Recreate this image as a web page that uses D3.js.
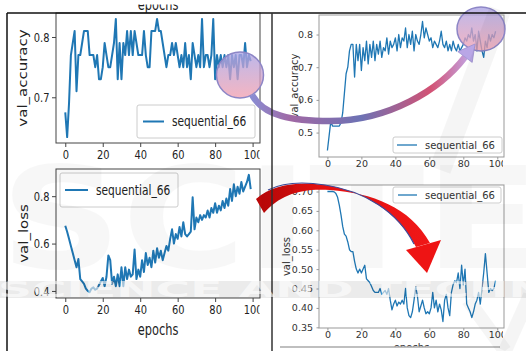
<!DOCTYPE html>
<html>
<head>
<meta charset="utf-8">
<script src="https://cdn.jsdelivr.net/npm/d3@7/dist/d3.min.js"></script>
<style>
  body { margin: 0; background: #fff; }
  svg { display: block; }
</style>
</head>
<body>
<div id="chart"></div>
<script>
// ---- data (epochs 0..99) ----
const epochs = d3.range(100);
const seriesName = "sequential_66";

// top left: val_accuracy
const accLeft = [
  0.675, 0.634, 0.69, 0.77, 0.79, 0.81, 0.71, 0.77, 0.77, 0.79,
  0.81, 0.81, 0.81, 0.77, 0.77, 0.77, 0.75, 0.77, 0.73, 0.73,
  0.75, 0.79, 0.77, 0.75, 0.75, 0.77, 0.79, 0.83, 0.73, 0.79,
  0.73, 0.79, 0.77, 0.81, 0.77, 0.81, 0.77, 0.81, 0.79, 0.77,
  0.77, 0.77, 0.81, 0.77, 0.75, 0.75, 0.81, 0.81, 0.81, 0.83,
  0.81, 0.81, 0.79, 0.77, 0.75, 0.77, 0.77, 0.79, 0.77, 0.79,
  0.77, 0.75, 0.77, 0.75, 0.79, 0.75, 0.77, 0.73, 0.79, 0.77,
  0.75, 0.77, 0.75, 0.83, 0.75, 0.77, 0.77, 0.75, 0.77, 0.83,
  0.73, 0.77, 0.75, 0.77, 0.75, 0.77, 0.75, 0.77, 0.73, 0.77,
  0.75, 0.77, 0.73, 0.77, 0.77, 0.75, 0.79, 0.75, 0.77, 0.76
];
// top right: val_accuracy
const accRight = [
  0.445, 0.49, 0.535, 0.52, 0.52, 0.52, 0.52, 0.52, 0.53, 0.56,
  0.62, 0.68, 0.70, 0.75, 0.77, 0.77, 0.67, 0.77, 0.72, 0.77,
  0.69, 0.76, 0.72, 0.78, 0.71, 0.77, 0.73, 0.78, 0.72, 0.77,
  0.74, 0.78, 0.73, 0.76, 0.75, 0.79, 0.74, 0.78, 0.76, 0.77,
  0.79, 0.75, 0.80, 0.76, 0.79, 0.78, 0.82, 0.76, 0.80, 0.77,
  0.81, 0.75, 0.80, 0.78, 0.77, 0.80, 0.84, 0.79, 0.82, 0.80,
  0.78, 0.79, 0.76, 0.78, 0.77, 0.76, 0.78, 0.81, 0.77, 0.76,
  0.78, 0.75, 0.77, 0.75, 0.78, 0.76, 0.75, 0.77, 0.75, 0.76,
  0.77, 0.79, 0.78, 0.80, 0.79, 0.82, 0.78, 0.80, 0.75, 0.81,
  0.78, 0.75, 0.73, 0.78, 0.76, 0.80, 0.78, 0.80, 0.79, 0.81
];
// bottom left: val_loss
const lossLeft = [
  0.675, 0.65, 0.62, 0.59, 0.56, 0.53, 0.50, 0.535, 0.45, 0.44,
  0.43, 0.41, 0.40, 0.395, 0.41, 0.415, 0.405, 0.41, 0.425, 0.44,
  0.455, 0.42, 0.46, 0.55, 0.53, 0.43, 0.46, 0.42, 0.47, 0.42,
  0.50, 0.42, 0.50, 0.45, 0.49, 0.46, 0.47, 0.575, 0.45, 0.49,
  0.46, 0.53, 0.48, 0.56, 0.51, 0.54, 0.50, 0.57, 0.52, 0.58,
  0.54, 0.57, 0.53, 0.56, 0.59, 0.57, 0.62, 0.66, 0.60, 0.64,
  0.62, 0.67, 0.63, 0.69, 0.64, 0.63, 0.64, 0.65, 0.795, 0.66,
  0.71, 0.69, 0.72, 0.70, 0.72, 0.71, 0.74, 0.71, 0.75, 0.73,
  0.77, 0.73, 0.76, 0.74, 0.78, 0.75, 0.79, 0.76, 0.83, 0.78,
  0.85, 0.80, 0.84, 0.81, 0.86, 0.82, 0.84, 0.86, 0.89, 0.83
];
// bottom right: val_loss
const lossRight = [
  0.700, 0.700, 0.700, 0.700, 0.699, 0.695, 0.685, 0.665, 0.64, 0.61,
  0.59, 0.585, 0.57, 0.55, 0.545, 0.545, 0.52, 0.50, 0.49, 0.50,
  0.49, 0.50, 0.51, 0.475, 0.47, 0.465, 0.455, 0.445, 0.44, 0.44,
  0.44, 0.45, 0.435, 0.44, 0.445, 0.435, 0.45, 0.42, 0.395, 0.41,
  0.42, 0.405, 0.415, 0.41, 0.42, 0.41, 0.45, 0.40, 0.38, 0.375,
  0.39, 0.42, 0.455, 0.43, 0.39, 0.405, 0.42, 0.40, 0.385, 0.39,
  0.385, 0.40, 0.44, 0.40, 0.42, 0.39, 0.41, 0.395, 0.365, 0.42,
  0.435, 0.40, 0.38, 0.44, 0.46, 0.47, 0.465, 0.49, 0.45, 0.51,
  0.46, 0.50, 0.41, 0.40, 0.39, 0.375, 0.39, 0.41, 0.42, 0.44,
  0.41, 0.45, 0.49, 0.54, 0.49, 0.44, 0.45, 0.445, 0.45, 0.47
];

const xTicks = [0, 20, 40, 60, 80, 100];
const accLeftTicks = [0.7, 0.8];
const accRightTicks = [0.5, 0.6, 0.7, 0.8];
const lossLeftTicks = [0.4, 0.6, 0.8];
const lossRightTicks = [0.35, 0.40, 0.45, 0.50, 0.55, 0.60, 0.65, 0.70];

// ---- drawing ----
const W = 526, H = 351;
const FONT = "'DejaVu Sans', Verdana, sans-serif";
const BLUE = "#1f77b4";

const svg = d3.select("#chart").append("svg")
    .attr("width", W)
    .attr("height", H);
const defs = svg.append("defs");

// left half of the figure is squeezed sideways, right half is small
const bigStyle = {squeeze: 0.76, tickFont: 13, labelFont: 15, legendFont: 14, lineW: 2,
    frame: "#444", text: "#222", tick: 4, yPad: 8.5, xPad: 7};
const smallStyle = {squeeze: 1, tickFont: 9.5, labelFont: 10, legendFont: 10, lineW: 1.3,
    frame: "#999", text: "#333", tick: 2.5, yPad: 6, xPad: 3};

const panels = [
    {id: "tl", values: accLeft, yTicks: accLeftTicks, fmt: ".1f", yLabel: "val_accuracy", yLabelX: 27,
     frame: {l: 56, r: 260, t: 13, b: 143}, clip: {x: 8, y: 0, w: 255, h: 168}, cutX: 259.5, st: bigStyle,
     legend: {x: 137, y: 105, w: 118, h: 33, l0: 143, l1: 164, tx: 172}},
    {id: "tr", values: accRight, yTicks: accRightTicks, fmt: ".1f", yLabel: "val_accuracy", yLabelX: 298,
     frame: {l: 319, r: 504, t: 15, b: 157}, clip: {x: 273, y: 13, w: 232, h: 155}, cutX: 503, st: smallStyle,
     legend: {x: 393, y: 137, w: 109, h: 16, l0: 397, l1: 417, tx: 425}},
    {id: "bl", values: lossLeft, yTicks: lossLeftTicks, fmt: ".1f", yLabel: "val_loss", yLabelX: 28,
     xLabel: "epochs", xLabelY: 335,
     frame: {l: 56, r: 260, t: 169, b: 298}, clip: {x: 8, y: 168, w: 255, h: 183}, cutX: 259.5, st: bigStyle,
     legend: {x: 60, y: 173, w: 118, h: 34, l0: 65, l1: 88, tx: 96}},
    {id: "br", values: lossRight, yTicks: lossRightTicks, fmt: ".2f", yLabel: "val_loss", yLabelX: 290,
     xLabel: "epochs", xLabelY: 351,
     frame: {l: 319, r: 504, t: 185, b: 328}, clip: {x: 273, y: 168, w: 232, h: 179}, cutX: 503, st: smallStyle,
     legend: {x: 393, y: 187, w: 108, h: 16, l0: 398, l1: 417, tx: 425}}
];

function squeezeText(sel, st) {
    if (st.squeeze !== 1) sel.attr("transform", `scale(${st.squeeze},1)`);
}

panels.forEach(p => {
    const st = p.st, f = p.frame;
    defs.append("clipPath").attr("id", "clip-" + p.id)
        .append("rect").attr("x", p.clip.x).attr("y", p.clip.y)
        .attr("width", p.clip.w).attr("height", p.clip.h);
    // the last x tick label is cut off at the figure edge
    defs.append("clipPath").attr("id", "cut-" + p.id)
        .append("rect").attr("x", p.clip.x).attr("y", p.clip.y)
        .attr("width", p.cutX - p.clip.x).attr("height", p.clip.h);
    const g = svg.append("g").attr("clip-path", `url(#clip-${p.id})`);

    // matplotlib style 5% margins
    const ext = d3.extent(p.values);
    const pad = (ext[1] - ext[0]) * 0.05;
    const x = d3.scaleLinear().domain([-4.95, 103.95]).range([f.l, f.r]);
    const y = d3.scaleLinear().domain([ext[0] - pad, ext[1] + pad]).range([f.b, f.t]);

    g.append("rect").attr("x", f.l).attr("y", f.t)
        .attr("width", f.r - f.l).attr("height", f.b - f.t).attr("fill", "#fff");

    const line = d3.line().x((d, i) => x(epochs[i])).y(d => y(d));
    g.append("path").datum(p.values)
        .attr("d", line)
        .attr("fill", "none")
        .attr("stroke", BLUE)
        .attr("stroke-width", st.lineW)
        .attr("stroke-linejoin", "round");

    // axes
    const xAxis = d3.axisBottom(x).tickValues(xTicks).tickFormat(d3.format("d"))
        .tickSize(st.tick).tickSizeOuter(0);
    const gx = g.append("g").attr("clip-path", `url(#cut-${p.id})`)
        .append("g").attr("transform", `translate(0,${f.b})`).call(xAxis);
    const yAxis = d3.axisLeft(y).tickValues(p.yTicks).tickFormat(d3.format(p.fmt))
        .tickSize(st.tick).tickSizeOuter(0);
    const gy = g.append("g").attr("transform", `translate(${f.l},0)`).call(yAxis);

    [gx, gy].forEach(a => {
        a.select(".domain").remove();
        a.selectAll(".tick line").attr("stroke", st.frame);
        a.selectAll(".tick text")
            .attr("font-family", FONT)
            .attr("font-size", st.tickFont)
            .attr("fill", st.text);
    });
    gx.selectAll(".tick text").attr("y", st.xPad).call(squeezeText, st);
    gy.selectAll(".tick text").attr("x", -st.yPad).call(squeezeText, st);

    g.append("rect").attr("x", f.l).attr("y", f.t)
        .attr("width", f.r - f.l).attr("height", f.b - f.t)
        .attr("fill", "none").attr("stroke", st.frame).attr("stroke-width", 1);

    // labels
    g.append("text")
        .attr("transform", `translate(${p.yLabelX},${(f.t + f.b) / 2}) scale(${st.squeeze},1) rotate(-90)`)
        .attr("text-anchor", "middle")
        .attr("font-family", FONT).attr("font-size", st.labelFont).attr("fill", st.text)
        .text(p.yLabel);
    if (p.xLabel) {
        g.append("text")
            .attr("transform", `translate(${(f.l + f.r) / 2},${p.xLabelY}) scale(${st.squeeze},1)`)
            .attr("text-anchor", "middle")
            .attr("font-family", FONT).attr("font-size", st.labelFont).attr("fill", st.text)
            .text(p.xLabel);
    }

    // legend
    const L = p.legend;
    const lg = g.append("g");
    lg.append("rect").attr("x", L.x).attr("y", L.y).attr("width", L.w).attr("height", L.h)
        .attr("rx", 2).attr("fill", "#fff").attr("fill-opacity", 0.85)
        .attr("stroke", "#ccc").attr("stroke-width", 1);
    lg.append("line").attr("x1", L.l0).attr("x2", L.l1)
        .attr("y1", L.y + L.h / 2).attr("y2", L.y + L.h / 2)
        .attr("stroke", BLUE).attr("stroke-width", st.lineW);
    lg.append("text")
        .attr("transform", `translate(${L.tx},${L.y + L.h / 2}) scale(${st.squeeze},1)`)
        .attr("dy", "0.35em")
        .attr("font-family", FONT).attr("font-size", st.legendFont).attr("fill", st.text)
        .text(seriesName);
});

// cut-off x label above the top-left plot (only its lower part shows)
svg.append("text")
    .attr("transform", `translate(158,9.5) scale(0.76,1)`)
    .attr("text-anchor", "middle")
    .attr("font-family", FONT).attr("font-size", 15).attr("fill", "#222")
    .text("epochs");
svg.append("rect").attr("x", 0).attr("y", 0).attr("width", 272).attr("height", 4.5).attr("fill", "#fff");

// ---- highlight circles ----
const circGrad = defs.append("linearGradient").attr("id", "circGrad")
    .attr("x1", 0).attr("y1", 0).attr("x2", 0).attr("y2", 1);
circGrad.append("stop").attr("offset", "0%").attr("stop-color", "#a9a4e6");
circGrad.append("stop").attr("offset", "100%").attr("stop-color", "#f2a0b0");

[{cx: 240, cy: 75, rx: 23.5, ry: 23}, {cx: 481, cy: 29, rx: 24, ry: 22}].forEach(c => {
    svg.append("ellipse")
        .attr("cx", c.cx).attr("cy", c.cy).attr("rx", c.rx).attr("ry", c.ry)
        .attr("fill", "url(#circGrad)").attr("fill-opacity", 0.78)
        .attr("stroke", "#8d86c6").attr("stroke-width", 1.5);
});

// ---- arrows ----
const blueGrad = defs.append("linearGradient").attr("id", "blueGrad")
    .attr("gradientUnits", "userSpaceOnUse")
    .attr("x1", 252).attr("y1", 0).attr("x2", 470).attr("y2", 0);
[["0%", "#8a8cd2"], ["18%", "#a068a4"], ["50%", "#6d72b4"], ["82%", "#d35274"], ["100%", "#c2a4e4"]]
    .forEach(s => blueGrad.append("stop").attr("offset", s[0]).attr("stop-color", s[1]));

svg.append("path")
    .attr("d", "M252,95 C264,116 292,121 330,121 C388,121 440,90 465,57")
    .attr("fill", "none").attr("stroke", "url(#blueGrad)").attr("stroke-width", 6.5);
svg.append("path")
    .attr("d", "M457.8,51.6 L472.2,62.4 L475,44 Z")
    .attr("fill", "#b9a6e6").attr("stroke", "#9b8fd0").attr("stroke-width", 0.8);

const redGrad = defs.append("linearGradient").attr("id", "redGrad")
    .attr("gradientUnits", "userSpaceOnUse")
    .attr("x1", 254).attr("y1", 0).attr("x2", 440).attr("y2", 0);
[["0%", "#b80808"], ["40%", "#e81010"], ["100%", "#f01818"]]
    .forEach(s => redGrad.append("stop").attr("offset", s[0]).attr("stop-color", s[1]));

svg.append("path")
    .attr("d", "M256,199 C272,184 300,181 325,185 C365,191 398,212 416,247 L430,243 C410,207 372,193 330,190 C300,188 280,195 264,213 Z")
    .attr("fill", "url(#redGrad)");
svg.append("path")
    .attr("d", "M406,250 L441,240 L427,273 Z")
    .attr("fill", "#ee1414");
svg.append("path")
    .attr("d", "M268,190 C282,183 300,181 325,185 C365,191 398,212 414,244")
    .attr("fill", "none").attr("stroke", "#3e4c9c").attr("stroke-width", 1.2);

// ---- page frame lines ----
svg.append("line").attr("x1", 7).attr("x2", W).attr("y1", 13).attr("y2", 13)
    .attr("stroke", "#111").attr("stroke-width", 1.5);
svg.append("line").attr("x1", 7).attr("x2", 7).attr("y1", 13).attr("y2", H)
    .attr("stroke", "#111").attr("stroke-width", 1.5);
svg.append("line").attr("x1", 272).attr("x2", 272).attr("y1", 13).attr("y2", H)
    .attr("stroke", "#333").attr("stroke-width", 1.5);
svg.append("line").attr("x1", 280).attr("x2", 500).attr("y1", 347).attr("y2", 347)
    .attr("stroke", "#aaa").attr("stroke-width", 1.5);

// ---- faint publisher watermark ----
const wm = svg.append("g").attr("pointer-events", "none");
wm.append("text")
    .attr("x", 0).attr("y", 268)
    .attr("textLength", 540).attr("lengthAdjust", "spacingAndGlyphs")
    .attr("font-family", FONT).attr("font-weight", "bold").attr("font-size", 140)
    .attr("fill", "#000").attr("fill-opacity", 0.03)
    .text("SCITE");
wm.append("rect").attr("x", 0).attr("y", 281).attr("width", W).attr("height", 17)
    .attr("fill", "#000").attr("fill-opacity", 0.08);
wm.append("text")
    .attr("x", -2).attr("y", 297)
    .attr("textLength", 730).attr("lengthAdjust", "spacingAndGlyphs")
    .attr("font-family", FONT).attr("font-weight", "bold").attr("font-size", 21)
    .attr("fill", "#fff").attr("fill-opacity", 0.6)
    .text("SCIENCE AND TECHNOLOGY");
[[500, 10, 440, 170, 22], [468, 300, 505, 351, 14], [530, 295, 505, 351, 14]].forEach(s => {
    wm.append("line").attr("x1", s[0]).attr("y1", s[1]).attr("x2", s[2]).attr("y2", s[3])
        .attr("stroke", "#000").attr("stroke-opacity", 0.04).attr("stroke-width", s[4]);
});
</script>
</body>
</html>
